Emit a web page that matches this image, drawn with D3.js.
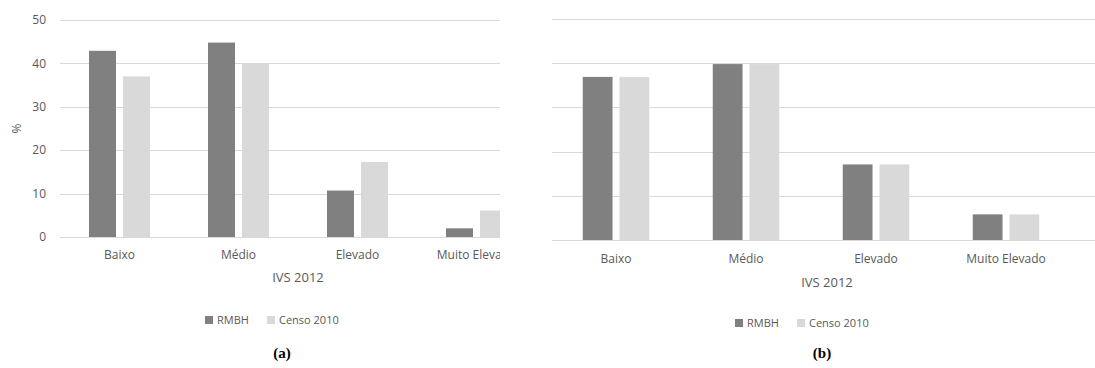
<!DOCTYPE html>
<html>
<head>
<meta charset="utf-8">
<script src="https://cdn.jsdelivr.net/npm/d3@7/dist/d3.min.js"></script>
<style>
  body { margin: 0; padding: 0; background: #fff; }
  svg text { font-family: "Open Sans", "Noto Sans", sans-serif; fill: #595959; }
  svg text.panel-label { font-family: "Liberation Serif", "DejaVu Serif", serif; font-weight: bold; fill: #000; }
</style>
</head>
<body>
<svg id="chart" width="1095" height="368"></svg>
<script>
// data
var categories = ["Baixo", "Médio", "Elevado", "Muito Elevado"];
var seriesNames = ["RMBH", "Censo 2010"];
var rmbhA = [42.9, 44.8, 10.7, 2.0];
var censoA = [37.0, 39.9, 17.3, 6.1];
var rmbhB = [36.9, 39.8, 17.1, 5.8];
var censoB = [36.9, 39.8, 17.1, 5.8];
var yTicks = [0, 10, 20, 30, 40, 50];
var colors = ["#808080", "#d9d9d9"];

var svg = d3.select("#chart");

function drawPanel(opt) {
  var g = svg.append("g");
  var clipId = "clip-" + opt.id;
  svg.append("clipPath").attr("id", clipId)
    .append("rect").attr("x", opt.clipLeft).attr("y", 0)
    .attr("width", opt.clipRight - opt.clipLeft).attr("height", 368);

  var x = d3.scaleBand().domain(categories).range([opt.x0, opt.x1]);
  var xi = d3.scaleBand().domain(seriesNames).range([0, x.bandwidth()])
    .paddingInner(opt.inner).paddingOuter(opt.outer);
  var y = d3.scaleLinear().domain([0, 50]).range([opt.yBase, opt.yTop]);

  // gridlines
  g.selectAll("line.grid").data(yTicks).enter().append("line")
    .attr("x1", opt.clipLeft).attr("x2", opt.gridRight)
    .attr("y1", function(d) { return Math.round(y(d)) + 0.5; })
    .attr("y2", function(d) { return Math.round(y(d)) + 0.5; })
    .attr("stroke", "#d9d9d9").attr("stroke-width", 1);

  if (opt.showY) {
    g.selectAll("text.ytick").data(yTicks).enter().append("text")
      .attr("x", 46).attr("y", function(d) { return y(d); })
      .attr("dy", "0.35em").attr("text-anchor", "end")
      .style("font-size", "12px").text(function(d) { return d; });
    g.append("text")
      .attr("transform", "translate(21," + (opt.yBase + opt.yTop) / 2 + ") rotate(-90)")
      .attr("text-anchor", "middle").style("font-size", "12px").text("%");
  }

  var bars = g.append("g").attr("clip-path", "url(#" + clipId + ")");
  var sets = [opt.a, opt.b];
  seriesNames.forEach(function(s, si) {
    bars.selectAll("rect.s" + si).data(sets[si]).enter().append("rect")
      .attr("x", function(d, i) { return x(categories[i]) + xi(s); })
      .attr("width", xi.bandwidth())
      .attr("y", function(d) { return y(d); })
      .attr("height", function(d) { return y(0) - y(d); })
      .attr("fill", colors[si]);
  });

  bars.selectAll("text.cat").data(categories).enter().append("text")
    .attr("x", function(d) { return x(d) + x.bandwidth() / 2; })
    .attr("y", opt.catY).attr("text-anchor", "middle")
    .style("font-size", "12px").text(function(d) { return d; });

  g.append("text").attr("x", opt.titleX).attr("y", opt.titleY)
    .attr("text-anchor", "middle").style("font-size", "13px").text("IVS 2012");

  // legend
  var lg = g.append("g").attr("transform", "translate(" + opt.legX + "," + opt.legY + ")");
  var offs = [0, 62];
  seriesNames.forEach(function(s, si) {
    lg.append("rect").attr("x", offs[si]).attr("y", -4).attr("width", 8).attr("height", 8)
      .attr("fill", colors[si]);
    lg.append("text").attr("x", offs[si] + 12).attr("y", 0).attr("dy", "0.35em")
      .style("font-size", "11px").text(s);
  });

  g.append("text").attr("class", "panel-label").attr("x", opt.labX).attr("y", opt.labY)
    .attr("text-anchor", "middle").style("font-size", "15px").text(opt.label);
}

drawPanel({
  id: "a", a: rmbhA, b: censoA, x0: 60, x1: 536, clipLeft: 60, clipRight: 500, gridRight: 500,
  inner: 7 / 34, outer: 29 / 34, yBase: 237, yTop: 20, showY: true,
  catY: 259, titleX: 298, titleY: 282, legX: 205, legY: 320, labX: 282, labY: 358, label: "(a)"
});
drawPanel({
  id: "b", a: rmbhB, b: censoB, x0: 551, x1: 1071, clipLeft: 552, clipRight: 1095, gridRight: 1095,
  inner: 7 / 37, outer: 32 / 37, yBase: 240, yTop: 19, showY: false,
  catY: 263, titleX: 827, titleY: 287, legX: 735, legY: 323, labX: 822, labY: 358, label: "(b)"
});
</script>
</body>
</html>
